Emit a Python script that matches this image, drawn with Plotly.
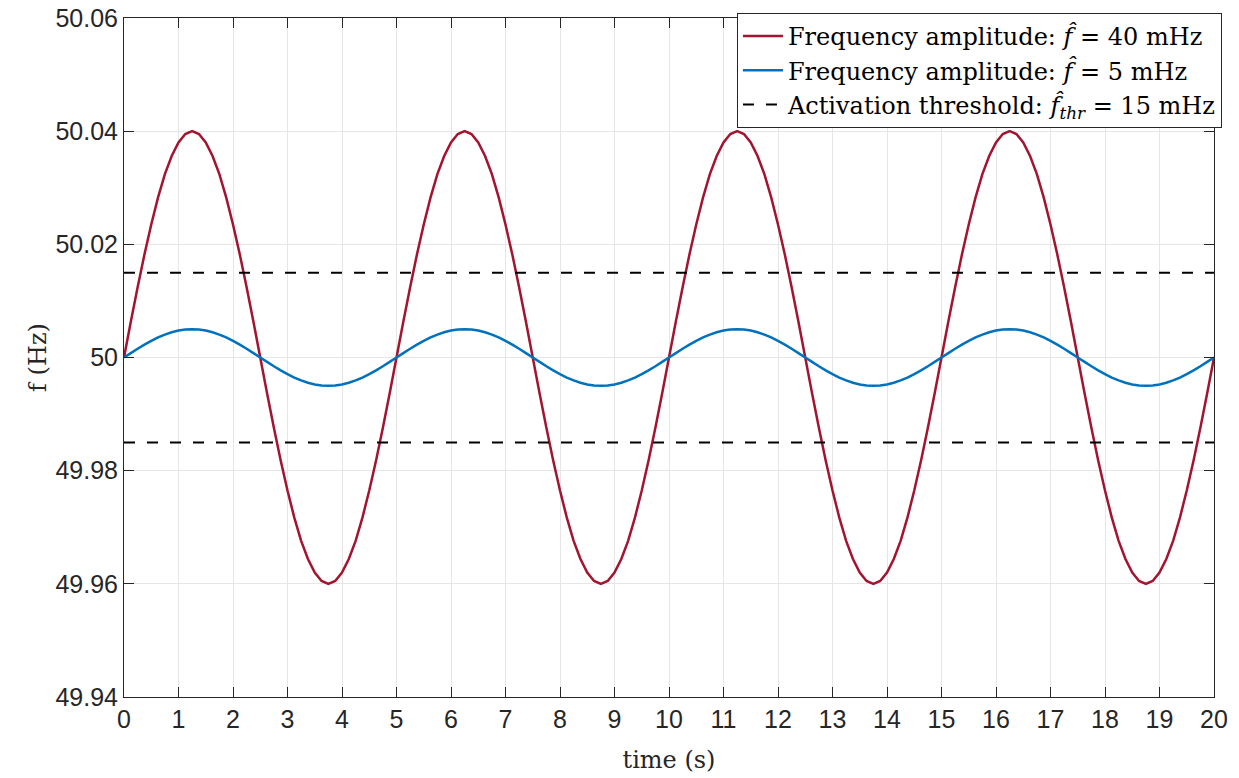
import plotly.graph_objects as go

time_s = [0, 0.125, 0.25, 0.375, 0.5, 0.625, 0.75, 0.875, 1, 1.125, 1.25, 1.375, 1.5, 1.625, 1.75, 1.875, 2, 2.125, 2.25, 2.375,
          2.5, 2.625, 2.75, 2.875, 3, 3.125, 3.25, 3.375, 3.5, 3.625, 3.75, 3.875, 4, 4.125, 4.25, 4.375, 4.5, 4.625, 4.75, 4.875,
          5, 5.125, 5.25, 5.375, 5.5, 5.625, 5.75, 5.875, 6, 6.125, 6.25, 6.375, 6.5, 6.625, 6.75, 6.875, 7, 7.125, 7.25, 7.375,
          7.5, 7.625, 7.75, 7.875, 8, 8.125, 8.25, 8.375, 8.5, 8.625, 8.75, 8.875, 9, 9.125, 9.25, 9.375, 9.5, 9.625, 9.75, 9.875,
          10, 10.125, 10.25, 10.375, 10.5, 10.625, 10.75, 10.875, 11, 11.125, 11.25, 11.375, 11.5, 11.625, 11.75, 11.875, 12, 12.125, 12.25, 12.375,
          12.5, 12.625, 12.75, 12.875, 13, 13.125, 13.25, 13.375, 13.5, 13.625, 13.75, 13.875, 14, 14.125, 14.25, 14.375, 14.5, 14.625, 14.75, 14.875,
          15, 15.125, 15.25, 15.375, 15.5, 15.625, 15.75, 15.875, 16, 16.125, 16.25, 16.375, 16.5, 16.625, 16.75, 16.875, 17, 17.125, 17.25, 17.375,
          17.5, 17.625, 17.75, 17.875, 18, 18.125, 18.25, 18.375, 18.5, 18.625, 18.75, 18.875, 19, 19.125, 19.25, 19.375, 19.5, 19.625, 19.75, 19.875,
          20]

f_40mhz = [50.0, 50.0063, 50.0124, 50.0182, 50.0235, 50.0283, 50.0324, 50.0356, 50.038, 50.0395, 50.04, 50.0395, 50.038, 50.0356, 50.0324, 50.0283, 50.0235, 50.0182, 50.0124, 50.0063,
           50.0, 49.9937, 49.9876, 49.9818, 49.9765, 49.9717, 49.9676, 49.9644, 49.962, 49.9605, 49.96, 49.9605, 49.962, 49.9644, 49.9676, 49.9717, 49.9765, 49.9818, 49.9876, 49.9937,
           50.0, 50.0063, 50.0124, 50.0182, 50.0235, 50.0283, 50.0324, 50.0356, 50.038, 50.0395, 50.04, 50.0395, 50.038, 50.0356, 50.0324, 50.0283, 50.0235, 50.0182, 50.0124, 50.0063,
           50.0, 49.9937, 49.9876, 49.9818, 49.9765, 49.9717, 49.9676, 49.9644, 49.962, 49.9605, 49.96, 49.9605, 49.962, 49.9644, 49.9676, 49.9717, 49.9765, 49.9818, 49.9876, 49.9937,
           50.0, 50.0063, 50.0124, 50.0182, 50.0235, 50.0283, 50.0324, 50.0356, 50.038, 50.0395, 50.04, 50.0395, 50.038, 50.0356, 50.0324, 50.0283, 50.0235, 50.0182, 50.0124, 50.0063,
           50.0, 49.9937, 49.9876, 49.9818, 49.9765, 49.9717, 49.9676, 49.9644, 49.962, 49.9605, 49.96, 49.9605, 49.962, 49.9644, 49.9676, 49.9717, 49.9765, 49.9818, 49.9876, 49.9937,
           50.0, 50.0063, 50.0124, 50.0182, 50.0235, 50.0283, 50.0324, 50.0356, 50.038, 50.0395, 50.04, 50.0395, 50.038, 50.0356, 50.0324, 50.0283, 50.0235, 50.0182, 50.0124, 50.0063,
           50.0, 49.9937, 49.9876, 49.9818, 49.9765, 49.9717, 49.9676, 49.9644, 49.962, 49.9605, 49.96, 49.9605, 49.962, 49.9644, 49.9676, 49.9717, 49.9765, 49.9818, 49.9876, 49.9937,
           50.0]

f_5mhz = [50.0, 50.00078, 50.00155, 50.00227, 50.00294, 50.00354, 50.00405, 50.00446, 50.00476, 50.00494, 50.005, 50.00494, 50.00476, 50.00446, 50.00405, 50.00354, 50.00294, 50.00227, 50.00155, 50.00078,
          50.0, 49.99922, 49.99845, 49.99773, 49.99706, 49.99646, 49.99595, 49.99554, 49.99524, 49.99506, 49.995, 49.99506, 49.99524, 49.99554, 49.99595, 49.99646, 49.99706, 49.99773, 49.99845, 49.99922,
          50.0, 50.00078, 50.00155, 50.00227, 50.00294, 50.00354, 50.00405, 50.00446, 50.00476, 50.00494, 50.005, 50.00494, 50.00476, 50.00446, 50.00405, 50.00354, 50.00294, 50.00227, 50.00155, 50.00078,
          50.0, 49.99922, 49.99845, 49.99773, 49.99706, 49.99646, 49.99595, 49.99554, 49.99524, 49.99506, 49.995, 49.99506, 49.99524, 49.99554, 49.99595, 49.99646, 49.99706, 49.99773, 49.99845, 49.99922,
          50.0, 50.00078, 50.00155, 50.00227, 50.00294, 50.00354, 50.00405, 50.00446, 50.00476, 50.00494, 50.005, 50.00494, 50.00476, 50.00446, 50.00405, 50.00354, 50.00294, 50.00227, 50.00155, 50.00078,
          50.0, 49.99922, 49.99845, 49.99773, 49.99706, 49.99646, 49.99595, 49.99554, 49.99524, 49.99506, 49.995, 49.99506, 49.99524, 49.99554, 49.99595, 49.99646, 49.99706, 49.99773, 49.99845, 49.99922,
          50.0, 50.00078, 50.00155, 50.00227, 50.00294, 50.00354, 50.00405, 50.00446, 50.00476, 50.00494, 50.005, 50.00494, 50.00476, 50.00446, 50.00405, 50.00354, 50.00294, 50.00227, 50.00155, 50.00078,
          50.0, 49.99922, 49.99845, 49.99773, 49.99706, 49.99646, 49.99595, 49.99554, 49.99524, 49.99506, 49.995, 49.99506, 49.99524, 49.99554, 49.99595, 49.99646, 49.99706, 49.99773, 49.99845, 49.99922,
          50.0]

thr_upper = 50.015
thr_lower = 49.985
thr_x = [0, 20]

x_ticks = list(range(0, 21))
y_ticks = [49.94, 49.96, 49.98, 50.0, 50.02, 50.04, 50.06]
y_tick_labels = ["49.94", "49.96", "49.98", "50", "50.02", "50.04", "50.06"]

serif = "DejaVu Serif"
sans = "Liberation Sans, Arial, sans-serif"
axis_col = "#262626"

fig = go.Figure()
fig.add_trace(go.Scatter(
    x=time_s, y=f_40mhz, mode="lines",
    line=dict(color="#A2142F", width=2.5, simplify=False),
    name="Frequency amplitude: <i>f&#770;</i> = 40 mHz"))
fig.add_trace(go.Scatter(
    x=time_s, y=f_5mhz, mode="lines",
    line=dict(color="#0072BD", width=2.5, simplify=False),
    name="Frequency amplitude: <i>f&#770;</i> = 5 mHz"))
fig.add_trace(go.Scatter(
    x=thr_x + [None] + thr_x, y=[thr_upper, thr_upper, None, thr_lower, thr_lower],
    mode="lines", line=dict(color="black", width=2, dash="11px,12px"),
    name="Activation threshold: <i>f&#770;<sub>thr</sub></i> = 15 mHz"))

fig.update_layout(
    width=1239, height=778,
    margin=dict(l=124, r=25, t=18, b=81, autoexpand=False),
    paper_bgcolor="white", plot_bgcolor="white",
    showlegend=True,
    legend=dict(x=1.0073, y=1.0074, xanchor="right", yanchor="top",
                bgcolor="white", bordercolor="#262626", borderwidth=1,
                font=dict(family=serif, size=24, color="black"),
                tracegroupgap=0, itemwidth=40),
    xaxis=dict(range=[0, 20], tickvals=x_ticks, ticks="inside", ticklen=10, tickcolor=axis_col,
               showline=True, linecolor=axis_col, linewidth=1, mirror="ticks",
               showgrid=True, gridcolor="#e6e6e6", gridwidth=1, zeroline=False, automargin=False,
               tickfont=dict(family=sans, size=25, color=axis_col),
               title=dict(text="time (s)", font=dict(family=serif, size=24, color=axis_col), standoff=19)),
    yaxis=dict(range=[49.94, 50.06], tickvals=y_ticks, ticktext=y_tick_labels, ticks="inside", ticklen=10,
               tickcolor=axis_col, showline=True, linecolor=axis_col, linewidth=1, mirror="ticks",
               showgrid=True, gridcolor="#e6e6e6", gridwidth=1, zeroline=False, automargin=False,
               tickfont=dict(family=sans, size=25, color=axis_col),
               title=dict(text="f (Hz)", font=dict(family=serif, size=24, color=axis_col), standoff=2)),
)

fig.write_html("out.html", config={"displayModeBar": False},
               post_script="document.body.style.margin='0';document.body.style.overflow='hidden';")
